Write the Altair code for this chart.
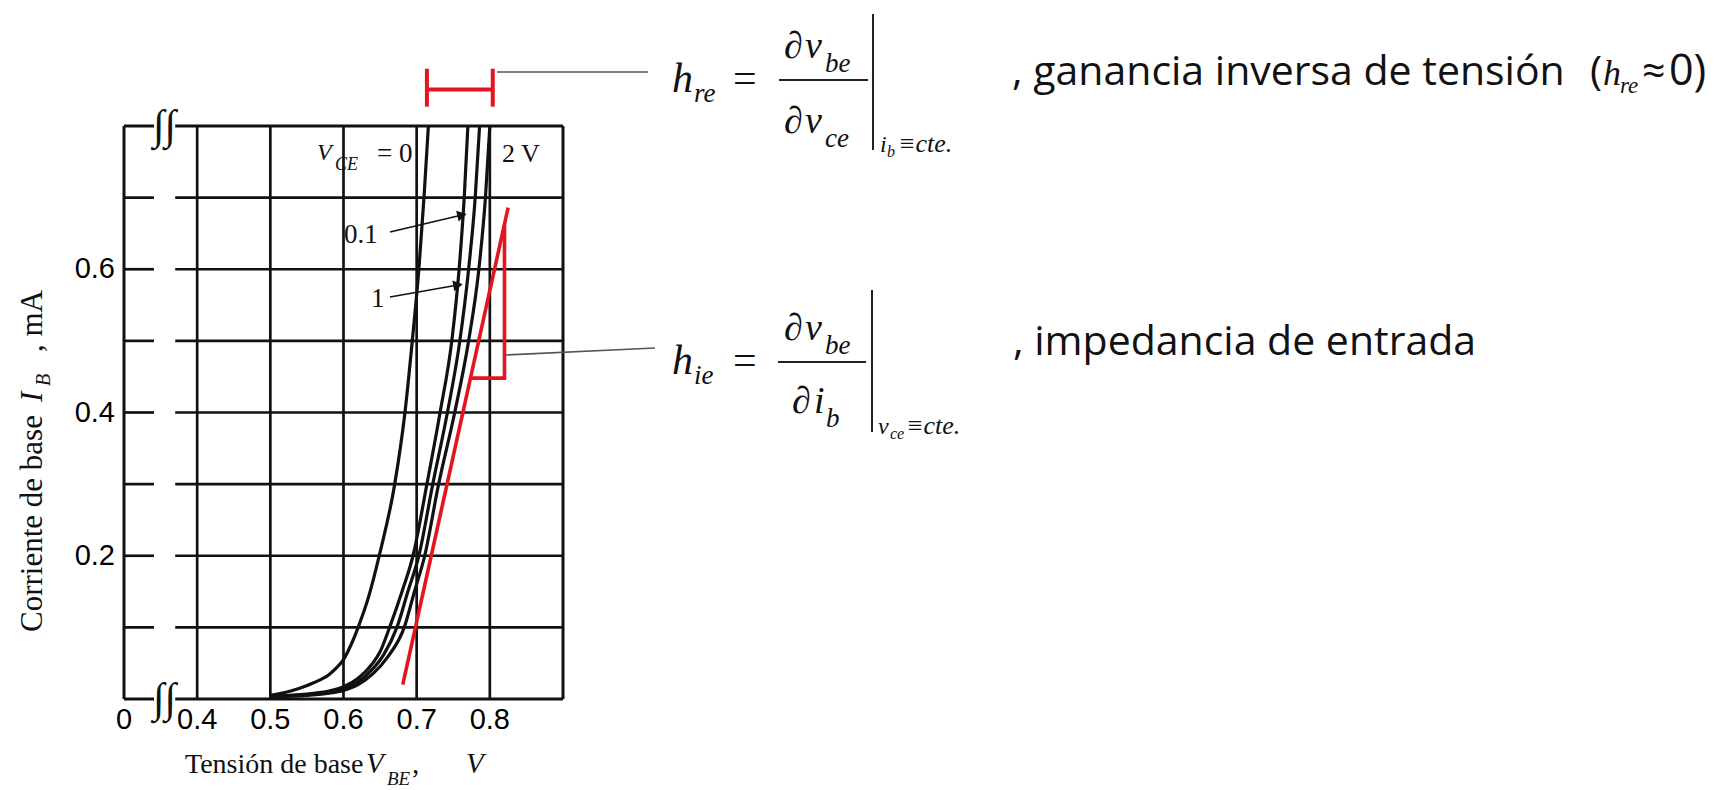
import math
import altair as alt
import pandas as pd

# ---------------------------------------------------------------------------
# Input characteristics of the transistor: I_B (mA) versus V_BE (V)
# ---------------------------------------------------------------------------
vce_names = ["0", "0.1", "1", "2"]

vbe_vce_0 = [0.500, 0.520, 0.540, 0.560, 0.580, 0.590, 0.600, 0.610, 0.620,
             0.635, 0.650, 0.670, 0.684, 0.694, 0.703, 0.710, 0.716]
ib_vce_0 = [0.005, 0.009, 0.015, 0.023, 0.034, 0.043, 0.055, 0.075, 0.100,
            0.145, 0.205, 0.300, 0.400, 0.500, 0.600, 0.700, 0.800]

vbe_vce_01 = [0.500, 0.550, 0.580, 0.600, 0.620, 0.640, 0.650, 0.663, 0.680,
              0.695, 0.714, 0.732, 0.748, 0.758, 0.765, 0.770]
ib_vce_01 = [0.004, 0.007, 0.011, 0.017, 0.029, 0.050, 0.066, 0.100, 0.150,
             0.200, 0.300, 0.400, 0.500, 0.600, 0.700, 0.800]

vbe_vce_1 = [0.500, 0.550, 0.580, 0.600, 0.620, 0.640, 0.655, 0.673, 0.688,
             0.703, 0.722, 0.742, 0.759, 0.771, 0.780, 0.786]
ib_vce_1 = [0.004, 0.006, 0.009, 0.014, 0.024, 0.042, 0.062, 0.100, 0.150,
            0.200, 0.300, 0.400, 0.500, 0.600, 0.700, 0.800]

vbe_vce_2 = [0.500, 0.550, 0.580, 0.600, 0.620, 0.640, 0.660, 0.683, 0.697,
             0.711, 0.730, 0.752, 0.771, 0.785, 0.794, 0.800]
ib_vce_2 = [0.003, 0.005, 0.008, 0.012, 0.020, 0.035, 0.058, 0.100, 0.150,
            0.200, 0.300, 0.400, 0.500, 0.600, 0.700, 0.800]

# tangent used to read h_ie, and its slope triangle
tangent_vbe = [0.681, 0.825]
tangent_ib = [0.020, 0.686]
triangle_vbe = [0.774, 0.820, 0.820]
triangle_ib = [0.448, 0.448, 0.662]

# bracket showing the V_BE spread between V_CE curves (h_re)
bracket_vbe = [0.714, 0.804]
bracket_ib = 0.851
bracket_tick_ib = [0.827, 0.880]

# axes (the V_BE axis is broken between 0 and 0.4 V)
x_domain = [0.3, 0.9]
y_domain = [0.0, 0.8]
x_tick_values = [0.3, 0.4, 0.5, 0.6, 0.7, 0.8]
x_tick_labels = ["0", "0.4", "0.5", "0.6", "0.7", "0.8"]
y_tick_values = [0.2, 0.4, 0.6]
y_tick_labels = ["0.2", "0.4", "0.6"]
grid_vbe = [0.4, 0.5, 0.6, 0.7, 0.8]
grid_ib = [0.1, 0.2, 0.3, 0.4, 0.5, 0.6, 0.7]
break_gap = [0.341, 0.370]

# ---------------------------------------------------------------------------
# Page layout (pixels)
# ---------------------------------------------------------------------------
PAGE_W, PAGE_H = 1731, 790
LEFT, TOP, W, H = 124, 126, 439, 573

INK = "#111111"
RED = "#e3151f"
SERIF = "Liberation Serif"
SANS = "Open Sans"
TICK_FONT = "Liberation Sans"


def dx(px):
    return x_domain[0] + (px - LEFT) / W * (x_domain[1] - x_domain[0])


def dy(py):
    return y_domain[1] - (py - TOP) / H * (y_domain[1] - y_domain[0])


xs = alt.Scale(domain=x_domain, nice=False, zero=False)
ys = alt.Scale(domain=y_domain, nice=False, zero=False)


def segments(rows, color, width):
    df = pd.DataFrame(rows, columns=["x", "y", "x2", "y2"])
    return alt.Chart(df).mark_rule(color=color, strokeWidth=width).encode(
        x=alt.X("x:Q", scale=xs, axis=None),
        y=alt.Y("y:Q", scale=ys, axis=None),
        x2="x2:Q",
        y2="y2:Q",
    )


def texts(rows, font, style="normal", angle=0, color=INK, align="left",
          baseline="alphabetic", offx=0, offy=0):
    df = pd.DataFrame(rows, columns=["t", "x", "y", "s"])
    return alt.Chart(df).mark_text(
        font=font, fontStyle=style, angle=angle, color=color,
        align=align, baseline=baseline, dx=offx, dy=offy,
    ).encode(
        x=alt.X("x:Q", scale=xs, axis=None),
        y=alt.Y("y:Q", scale=ys, axis=None),
        text="t:N",
        size=alt.Size("s:Q", scale=None, legend=None),
    )


def polyline(xv, yv, color, width, interpolate="linear"):
    df = pd.DataFrame({"x": xv, "y": yv, "i": list(range(len(xv)))})
    return alt.Chart(df).mark_line(color=color, strokeWidth=width, interpolate=interpolate).encode(
        x=alt.X("x:Q", scale=xs, axis=None),
        y=alt.Y("y:Q", scale=ys, axis=None),
        order="i:Q",
    )


# ---------------------------------------------------------------------------
# Curves
# ---------------------------------------------------------------------------
curve_rows = []
for name, vbe, ib in zip(vce_names,
                         [vbe_vce_0, vbe_vce_01, vbe_vce_1, vbe_vce_2],
                         [ib_vce_0, ib_vce_01, ib_vce_1, ib_vce_2]):
    for i, (v, c) in enumerate(zip(vbe, ib)):
        curve_rows.append({"vbe": v, "ib": c, "vce": name, "i": i})
curves_df = pd.DataFrame(curve_rows)

curves = alt.Chart(curves_df).mark_line(
    color=INK, strokeWidth=3.2, interpolate="monotone"
).encode(
    x=alt.X("vbe:Q", scale=xs, axis=None),
    y=alt.Y("ib:Q", scale=ys, axis=None),
    detail="vce:N",
    order="i:Q",
)

# grid with a gap for the axis break
grid_rows = []
for v in grid_vbe:
    grid_rows.append((v, y_domain[0], v, y_domain[1]))
for c in grid_ib:
    grid_rows.append((x_domain[0], c, break_gap[0], c))
    grid_rows.append((break_gap[1], c, x_domain[1], c))
grid = segments(grid_rows, INK, 2.7)

frame_rows = [
    (x_domain[0], y_domain[0], x_domain[0], y_domain[1]),
    (x_domain[1], y_domain[0], x_domain[1], y_domain[1]),
    (x_domain[0], y_domain[1], break_gap[0], y_domain[1]),
    (break_gap[1], y_domain[1], x_domain[1], y_domain[1]),
    (x_domain[0], y_domain[0], break_gap[0], y_domain[0]),
    (break_gap[1], y_domain[0], x_domain[1], y_domain[0]),
]
frame = segments(frame_rows, INK, 3)

mid_gap = (break_gap[0] + break_gap[1]) / 2
breaks = texts([("∫∫", mid_gap, y_domain[1], 42), ("∫∫", mid_gap, y_domain[0], 42)],
               SERIF, align="center", baseline="middle")

# tick labels
x_labels = texts([(t, v, y_domain[0], 29) for t, v in zip(x_tick_labels, x_tick_values)],
                 TICK_FONT, align="center", baseline="middle", offy=21, color="#000000")
y_labels = texts([(t, x_domain[0], v, 29) for t, v in zip(y_tick_labels, y_tick_values)],
                 TICK_FONT, align="right", baseline="middle", offx=-9, color="#000000")

# red construction: tangent, slope triangle, bracket
tangent = polyline(tangent_vbe, tangent_ib, RED, 3.6)
triangle = polyline(triangle_vbe, triangle_ib, RED, 3.6)
bracket = segments([
    (bracket_vbe[0], bracket_ib, bracket_vbe[1], bracket_ib),
    (bracket_vbe[0], bracket_tick_ib[0], bracket_vbe[0], bracket_tick_ib[1]),
    (bracket_vbe[1], bracket_tick_ib[0], bracket_vbe[1], bracket_tick_ib[1]),
], RED, 4)

# leader lines from the construction to the formulas
leaders = segments([
    (dx(497), dy(72), dx(648), dy(72)),
    (triangle_vbe[1], dy(355), dx(655), dy(348)),
], "#555555", 1.6)

# arrows naming the V_CE = 0.1 and 1 curves
arrow_tail = [(dx(390), dy(232)), (dx(390), dy(297))]
arrow_tip = [(dx(462), dy(215)), (dx(458), dy(285))]
arrow_lines = segments([(a[0], a[1], b[0], b[1]) for a, b in zip(arrow_tail, arrow_tip)], INK, 1.6)
head_rows = []
for a, b in zip(arrow_tail, arrow_tip):
    px = (b[0] - a[0]) / (x_domain[1] - x_domain[0]) * W
    py = -(b[1] - a[1]) / (y_domain[1] - y_domain[0]) * H
    ang = math.degrees(math.atan2(py, px)) % 360
    head_rows.append({"x": b[0], "y": b[1], "a": ang})
heads = alt.Chart(pd.DataFrame(head_rows)).mark_point(
    shape="triangle-right", filled=True, color=INK, size=120, opacity=1
).encode(
    x=alt.X("x:Q", scale=xs, axis=None),
    y=alt.Y("y:Q", scale=ys, axis=None),
    angle=alt.Angle("a:Q", scale=None),
)

# ---------------------------------------------------------------------------
# Text
# ---------------------------------------------------------------------------
def P(t, px, py, s):
    return (t, dx(px), dy(py), s)


serif_italic = texts([
    # curve labels
    P("V", 317, 160, 24), P("CE", 335, 170, 18),
    # x-axis title pieces
    P("V", 366, 773, 29), P("BE", 387, 785, 19), P("V", 466, 773, 29),
    # h_re
    P("h", 672, 92, 42), P("re", 694, 102, 27),
    P("∂", 784, 58, 38), P("v", 805, 58, 38), P("be", 825, 72, 27),
    P("∂", 784, 133, 38), P("v", 805, 133, 38), P("ce", 825, 147, 27),
    P("i", 880, 152, 24), P("b", 887, 157, 16), P("≡cte.", 898, 152, 26),
    # h_ie
    P("h", 672, 374, 42), P("ie", 694, 384, 27),
    P("∂", 784, 340, 38), P("v", 805, 340, 38), P("be", 825, 354, 27),
    P("∂", 792, 413, 38), P("i", 814, 413, 38), P("b", 826, 427, 27),
    P("v", 878, 434, 24), P("ce", 890, 439, 16), P("≡cte.", 906, 434, 26),
    # (h_re ≈ 0)
    P("h", 1603, 85, 36), P("re", 1620, 93, 23),
], SERIF, style="italic")

serif_plain = texts([
    P("= 0", 377, 162, 27), P("2 V", 502, 162, 26),
    P("0.1", 344, 243, 27), P("1", 371, 307, 27),
    P("Tensión de base", 185, 773, 28), P(",", 412, 773, 29),
    P("=", 733, 92, 42), P("=", 733, 374, 42),
], SERIF)

sans_plain = texts([
    P(", ganancia inversa de tensión", 1012, 85, 41),
    P("(", 1590, 85, 41), P("≈", 1642, 85, 41), P("0)", 1669, 85, 43),
    P(", impedancia de entrada", 1013, 355, 41),
], SANS)

ytitle_plain = texts([
    P("Corriente de base", 42, 632, 31), P(", mA", 42, 352, 31),
], SERIF, angle=270)
ytitle_italic = texts([
    P("I", 42, 402, 31), P("B", 50, 386, 20),
], SERIF, style="italic", angle=270)

# fraction bars and evaluation bars of the formulas
formula_rules = segments([
    (dx(779), dy(80), dx(868), dy(80)),
    (dx(778), dy(362), dx(866), dy(362)),
    (dx(873), dy(14), dx(873), dy(150)),
    (dx(872), dy(290), dx(872), dy(432)),
], "#222222", 2)

chart = alt.layer(
    grid, frame, curves, tangent, triangle, bracket, leaders,
    arrow_lines, heads, breaks, x_labels, y_labels,
    serif_italic, serif_plain, sans_plain, ytitle_plain, ytitle_italic,
    formula_rules,
).properties(
    width=W,
    height=H,
    autosize=alt.AutoSizeParams(type="none"),
    padding={"left": LEFT, "top": TOP, "right": PAGE_W - LEFT - W, "bottom": PAGE_H - TOP - H},
    background="white",
).configure_view(stroke=None)

chart.save("out.html", embed_options={"renderer": "svg", "actions": False})
